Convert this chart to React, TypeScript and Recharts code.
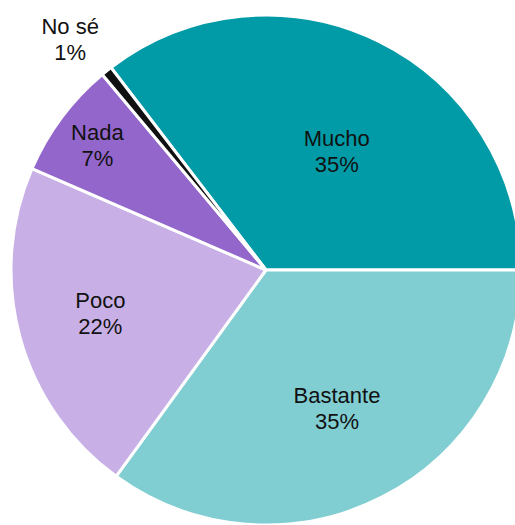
import { Cell, Pie, PieChart } from "recharts"

// answers and their shares (percent)
const categories = ["Mucho", "Bastante", "Poco", "Nada", "No sé"]
const shares = [35.4, 35.0, 21.5, 7.4, 0.7]

const colors = ["#009ba6", "#80ced2", "#c8b0e6", "#9366cc", "#111111"]
// label placement: distance from centre (fraction of radius) and angle nudge in degrees
const labelRadius = [0.545, 0.605, 0.67, 0.825, 1.19]
const labelShift = [-4.3, 0.4, -1.1, 0, 1.5]

const data = categories.map((name, i) => ({ name, value: shares[i] }))

const RADIAN = Math.PI / 180

const renderLabel = (props: any) => {
  const { cx, cy, midAngle, outerRadius, index, name, value } = props
  const r = outerRadius * labelRadius[index]
  const a = (midAngle + labelShift[index]) * RADIAN
  const x = cx + r * Math.cos(-a)
  const y = cy + r * Math.sin(-a)
  return (
    <text
      x={x}
      y={y}
      textAnchor="middle"
      fill="#111"
      fontSize={22}
      fontFamily="'Liberation Sans', Arial, sans-serif"
    >
      <tspan x={x} dy={-4}>{name}</tspan>
      <tspan x={x} dy={26}>{Math.round(value)}%</tspan>
    </text>
  )
}

export default function App() {
  const start = (shares[0] / 100) * 360
  return (
    <div style={{ position: "absolute", top: 0, left: 0, width: 515, height: 525, background: "#fff" }}>
      <PieChart width={515} height={525} margin={{ top: 0, right: 0, bottom: 0, left: 0 }}>
        <Pie
          data={data}
          dataKey="value"
          nameKey="name"
          cx={266}
          cy={270}
          outerRadius={255}
          startAngle={start}
          endAngle={start - 360}
          stroke="#fff"
          strokeWidth={3}
          label={renderLabel}
          labelLine={false}
          isAnimationActive={false}
        >
          {data.map((d, i) => (
            <Cell key={d.name} fill={colors[i]} />
          ))}
        </Pie>
      </PieChart>
    </div>
  )
}
